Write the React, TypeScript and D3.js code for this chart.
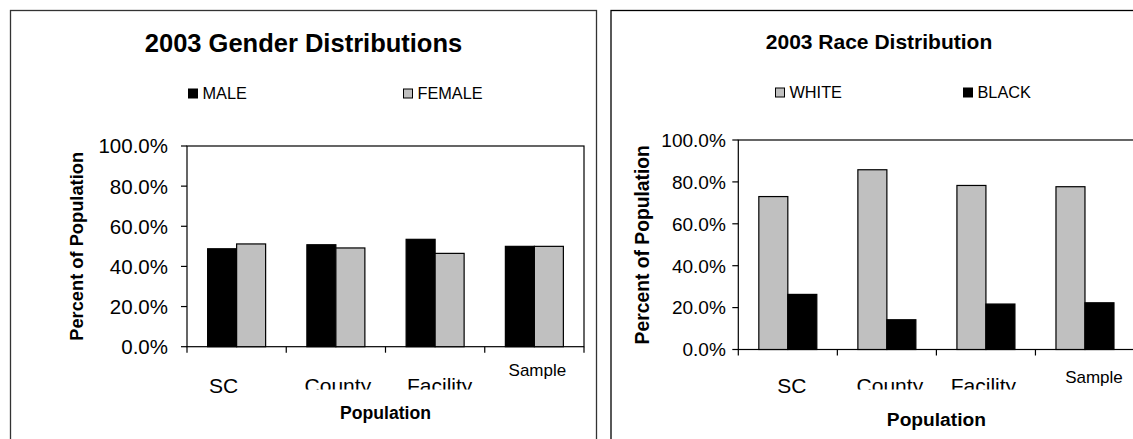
import * as d3 from "d3";

const categories = ["SC", "County", "Facility", "Sample"];
const genderSeries = ["MALE", "FEMALE"];
const maleValues = [0.488, 0.508, 0.535, 0.5];
const femaleValues = [0.512, 0.492, 0.465, 0.5];
const raceSeries = ["WHITE", "BLACK"];
const whiteValues = [0.73, 0.858, 0.783, 0.777];
const blackValues = [0.263, 0.142, 0.217, 0.223];
const yTicks = [0, 0.2, 0.4, 0.6, 0.8, 1.0];

const FONT = "'Liberation Sans', Arial, sans-serif";
const GRAY = "#c0c0c0";

type Panel = {
  id: string;
  title: string;
  titleSize: number;
  titleX: number;
  titleY: number;
  frame: { x: number; y: number; w: number; h: number; stroke: string };
  plot: { l: number; r: number; t: number; b: number };
  series: string[];
  values: number[][];
  fills: string[];
  legendX: number[];
  legendY: number;
  legendSize: number;
  tickSize: number;
  tickGap: number;
  catBase: number;
  catClip: number;
  sampleBase: number;
  nudge: number[];
  xTitleY: number;
  xTitleSize: number;
  yTitleX: number;
  yTitleSize: number;
};

const panels: Panel[] = [
  {
    id: "gender",
    title: "2003 Gender Distributions",
    titleSize: 25.5,
    titleX: 303.5,
    titleY: 52,
    frame: { x: 10.5, y: 10.5, w: 586, h: 460, stroke: "#333" },
    plot: { l: 187, r: 584, t: 146, b: 346.7 },
    series: genderSeries,
    values: [maleValues, femaleValues],
    fills: ["#000", GRAY],
    legendX: [188, 403],
    legendY: 98.5,
    legendSize: 16.3,
    tickSize: 20.5,
    tickGap: 19,
    catBase: 393,
    catClip: 389.5,
    sampleBase: 375.5,
    nudge: [-13, 2, 4.5, 3],
    xTitleY: 419,
    xTitleSize: 17.6,
    yTitleX: 83,
    yTitleSize: 18.3,
  },
  {
    id: "race",
    title: "2003 Race Distribution",
    titleSize: 21,
    titleX: 879,
    titleY: 49,
    frame: { x: 611, y: 10.5, w: 560, h: 460, stroke: "#000" },
    plot: { l: 738.3, r: 1134.5, t: 140, b: 349.5 },
    series: raceSeries,
    values: [whiteValues, blackValues],
    fills: [GRAY, "#000"],
    legendX: [775, 963],
    legendY: 97.5,
    legendSize: 16.3,
    tickSize: 19,
    tickGap: 12.5,
    catBase: 393,
    catClip: 389.5,
    sampleBase: 383,
    nudge: [4, 3, -2.5, 9],
    xTitleY: 426,
    xTitleSize: 19.2,
    yTitleX: 648.5,
    yTitleSize: 19.3,
  },
];

function ChartPanel({ p }: { p: Panel }) {
  const x0 = d3.scaleBand().domain(categories).range([p.plot.l, p.plot.r]);
  const groupW = 58;
  const x1 = d3.scaleBand().domain(p.series).range([0, groupW]);
  const y = d3.scaleLinear().domain([0, 1]).range([p.plot.b, p.plot.t]);
  const fmt = d3.format(".1%");
  const bw = x0.bandwidth();
  const clipId = `clip-${p.id}`;
  const cx = (p.plot.l + p.plot.r) / 2;
  const cy = (p.plot.t + p.plot.b) / 2;

  return (
    <g>
      <defs>
        <clipPath id={clipId}>
          <rect x={p.plot.l - 60} y={p.plot.b + 5} width={p.plot.r - p.plot.l + 120} height={p.catClip - p.plot.b - 5} />
        </clipPath>
      </defs>
      <rect x={p.frame.x} y={p.frame.y} width={p.frame.w} height={p.frame.h} fill="#fff" stroke={p.frame.stroke} strokeWidth={1.3} />

      <text x={p.titleX} y={p.titleY} textAnchor="middle" fontSize={p.titleSize} fontWeight={700}>
        {p.title}
      </text>

      {p.series.map((s, i) => (
        <g key={s}>
          <rect x={p.legendX[i] + 0.5} y={p.legendY - 9.5} width={9} height={9} fill={p.fills[i]} stroke="#000" strokeWidth={1} />
          <text x={p.legendX[i] + 14.5} y={p.legendY} fontSize={p.legendSize}>
            {s}
          </text>
        </g>
      ))}

      <rect x={p.plot.l} y={p.plot.t} width={p.plot.r - p.plot.l} height={p.plot.b - p.plot.t} fill="none" stroke="#000" strokeWidth={1.2} />

      {categories.map((c, ci) =>
        p.series.map((s, si) => {
          const v = p.values[si][ci];
          return (
            <rect
              key={c + s}
              x={x0(c)! + (bw - groupW) / 2 + x1(s)!}
              y={y(v)}
              width={x1.bandwidth()}
              height={y(0) - y(v)}
              fill={p.fills[si]}
              stroke="#000"
              strokeWidth={1.2}
            />
          );
        })
      )}

      {yTicks.map((t) => (
        <g key={t}>
          <line x1={p.plot.l - 6} x2={p.plot.l} y1={y(t)} y2={y(t)} stroke="#000" strokeWidth={1.2} />
          <text x={p.plot.l - p.tickGap} y={y(t) + p.tickSize * 0.36} textAnchor="end" fontSize={p.tickSize}>
            {fmt(t)}
          </text>
        </g>
      ))}

      {[...categories.map((c) => x0(c)!), p.plot.r].map((xv, i) => (
        <line key={i} x1={xv} x2={xv} y1={p.plot.b} y2={p.plot.b + 6} stroke="#000" strokeWidth={1.2} />
      ))}

      {categories.map((c, ci) => {
        const xc = x0(c)! + bw / 2 + p.nudge[ci];
        if (c === "Sample") {
          return (
            <text key={c} x={xc} y={p.sampleBase} textAnchor="middle" fontSize={17}>
              {c}
            </text>
          );
        }
        const clipped = c === "County" || c === "Facility";
        return (
          <text
            key={c}
            x={xc}
            y={p.catBase}
            textAnchor="middle"
            fontSize={21}
            clipPath={clipped ? `url(#${clipId})` : undefined}
          >
            {c}
          </text>
        );
      })}

      <text x={cx} y={p.xTitleY} textAnchor="middle" fontSize={p.xTitleSize} fontWeight={700}>
        Population
      </text>
      <text
        transform={`translate(${p.yTitleX},${cy}) rotate(-90)`}
        textAnchor="middle"
        fontSize={p.yTitleSize}
        fontWeight={700}
      >
        Percent of Population
      </text>
    </g>
  );
}

export default function App() {
  return (
    <svg
      width={1133}
      height={439}
      style={{ position: "absolute", left: 0, top: 0, background: "#fff", fontFamily: FONT }}
    >
      <rect width={1133} height={439} fill="#fff" />
      {panels.map((p) => (
        <ChartPanel key={p.id} p={p} />
      ))}
    </svg>
  );
}
